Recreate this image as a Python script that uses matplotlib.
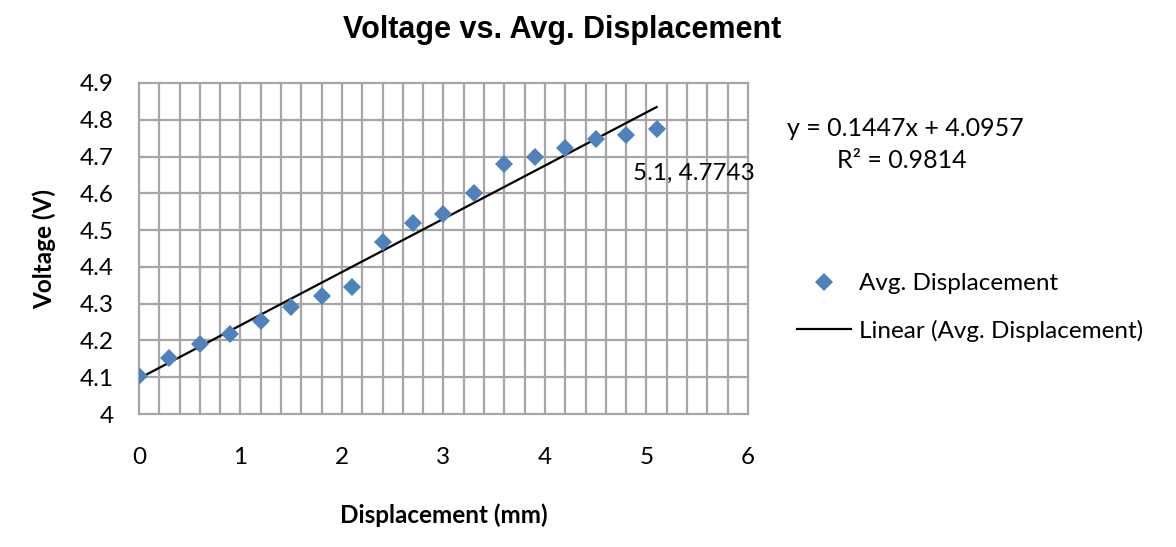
import matplotlib.pyplot as plt
import numpy as np

plt.rcParams['font.family'] = ['Lato', 'DejaVu Sans']

# displacement (mm) and averaged voltage (V)
disp = [0.0, 0.3, 0.6, 0.9, 1.2, 1.5, 1.8, 2.1, 2.4, 2.7, 3.0, 3.3, 3.6, 3.9, 4.2, 4.5, 4.8, 5.1]
volt = [4.103, 4.151, 4.190, 4.217, 4.253, 4.292, 4.322, 4.346, 4.468, 4.518, 4.543,
        4.600, 4.679, 4.698, 4.722, 4.747, 4.758, 4.7743]

x_ticks = [0, 1, 2, 3, 4, 5, 6]
y_ticks = [4, 4.1, 4.2, 4.3, 4.4, 4.5, 4.6, 4.7, 4.8, 4.9]
y_labels = ['4', '4.1', '4.2', '4.3', '4.4', '4.5', '4.6', '4.7', '4.8', '4.9']

blue = '#4f81bd'
grid_col = '#a6a6a6'
fs = 17.5

fig = plt.figure(figsize=(11.76, 5.47), dpi=100)
ax = fig.add_axes([0.1182, 0.2431, 0.5178, 0.6052])

# grid: vertical every 0.2, horizontal every 0.1
for gx in np.arange(0.2, 6.0, 0.2):
    ax.axvline(gx, color=grid_col, lw=1.6, zorder=0)
for gy in y_ticks[1:-1]:
    ax.axhline(gy, color=grid_col, lw=1.6, zorder=0)

# linear trendline
slope, icpt = np.polyfit(disp, volt, 1)
xs = np.array([disp[0], disp[-1]])
ax.plot(xs, slope * xs + icpt, color='black', lw=1.6, zorder=2,
        label='Linear (Avg. Displacement)')

ax.plot(disp, volt, 'D', color=blue, markersize=9.5, markeredgewidth=0, zorder=3,
        label='Avg. Displacement')

ax.annotate('5.1, 4.7743', (disp[-1], volt[-1]), xytext=(-17, -32),
            textcoords='offset points', fontsize=fs, va='center')

ax.set_xlim(0, 6)
ax.set_ylim(4, 4.9)
ax.set_xticks(x_ticks)
ax.set_yticks(y_ticks)
ax.set_yticklabels(y_labels)
ax.tick_params(length=0, labelsize=fs)
ax.tick_params(axis='x', pad=24)
ax.tick_params(axis='y', pad=18)
for s in ax.spines.values():
    s.set_color(grid_col)
    s.set_linewidth(1.6)

ax.set_xlabel('Displacement (mm)', fontsize=17.5, fontweight='bold', labelpad=25)
ax.set_ylabel('Voltage (V)', fontsize=17.5, fontweight='bold', labelpad=17)

fig.text(0.478, 0.945, 'Voltage vs. Avg. Displacement', fontsize=22,
         fontweight='bold', ha='center', va='center',
         family=['Liberation Sans', 'DejaVu Sans'])

fig.text(0.669, 0.765, 'y = 0.1447x + 4.0957', fontsize=18, va='center')
fig.text(0.712, 0.706, 'R² = 0.9814', fontsize=18, va='center')

h, l = ax.get_legend_handles_labels()
fig.legend(h[::-1], l[::-1], loc='center left', bbox_to_anchor=(0.678, 0.438),
           frameon=False, fontsize=fs, handlelength=2.2, labelspacing=1.05,
           handletextpad=0.35, borderpad=0, borderaxespad=0)

fig.savefig('out.png', dpi=100)
